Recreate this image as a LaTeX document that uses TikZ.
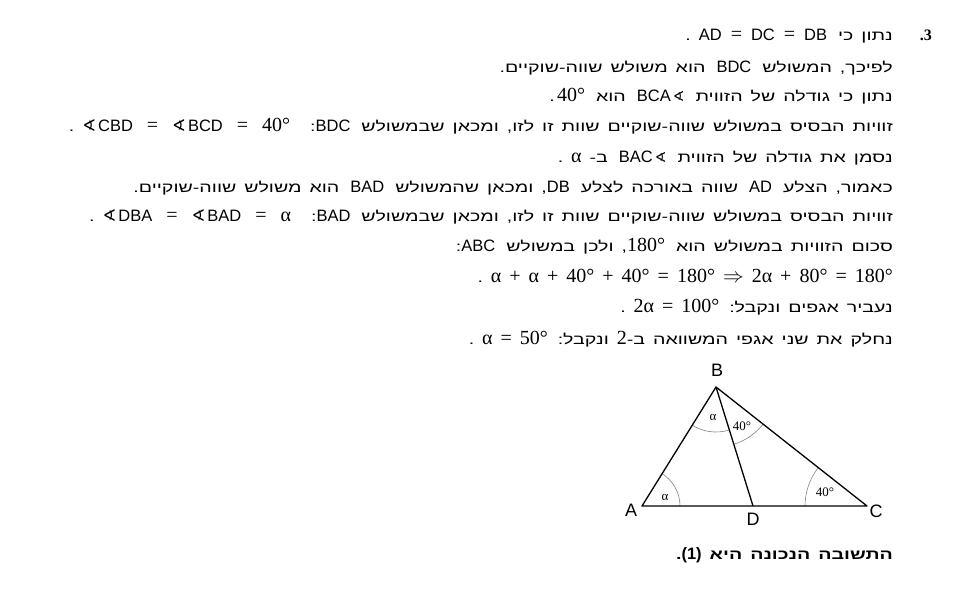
\documentclass[tikz,border=0pt]{standalone}
\usepackage{fontspec}
\setmainfont{Liberation Sans}
\newfontfamily\hebfont[Script=Hebrew, FakeStretch=1.4]{Liberation Sans}
\newfontfamily\timesfont{Liberation Serif}
\newfontfamily\symfont{DejaVu Sans}
\TeXXeTstate=1
\usetikzlibrary{angles}
\newcommand\hebtext{\fontsize{14}{18}\hebfont\spaceskip=8pt plus 1pt\relax}
\newcommand\lrun[1]{\beginL{\fontsize{16.5}{18}\normalfont#1}\endL}
\newcommand\xgap{\hspace{3pt}}
\newcommand\nm[1]{{\fontsize{20}{22}\timesfont\spaceskip=0.4em\relax#1}}
\newcommand\eq{\nm{\hspace{0.45em}=\hspace{0.45em}}}
\newcommand\eqw{\nm{\hspace{0.7em}=\hspace{0.7em}}}
\newcommand\ang{{\symfont\char"2222}\kern2pt}
\begin{document}
\begin{tikzpicture}[x=1pt,y=-1pt,
    txtline/.style = {anchor=base east, inner sep=0pt, font=\hebtext},
    vertex/.style = {inner sep=0pt, font=\fontsize{18}{20}\selectfont},
    anglabel/.style = {inner sep=0pt, font=\fontsize{13}{14}\timesfont},
    arcmark/.style = {draw=gray, line width=0.6pt},
    side/.style = {line width=1.3pt, line join=round}]
    \useasboundingbox (0,0) rectangle (969,608);
    % solution text
    \node[txtline, font=\fontsize{16}{18}\timesfont\bfseries] (num) at (932,40) {\beginR 3\kern0pt.\endR};
    \node[txtline] (l1) at (893,40) {\beginR נתון כי \xgap\lrun{AD\eq DC\eq DB} .\endR};
    \node[txtline] (l2) at (893,72) {\beginR לפיכך, המשולש \xgap\lrun{BDC}\xgap{} הוא משולש שווה-שוקיים.\endR};
    \node[txtline] (l3) at (893,101) {\beginR נתון כי גודלה של הזווית \xgap\ang\lrun{BCA}\xgap{} הוא \xgap\lrun{\nm{40°}}\,.\endR};
    \node[txtline] (l4) at (893,131) {\beginR זוויות הבסיס במשולש שווה-שוקיים שוות זו לזו, ומכאן שבמשולש \xgap\lrun{BDC}:\hspace{12pt} \lrun{\ang CBD\eqw\ang BCD\eqw\nm{40°}} .\endR};
    \node[txtline] (l5) at (893,162) {\beginR נסמן את גודלה של הזווית \xgap\ang\lrun{BAC}\xgap{} ב- \lrun{\nm{α}} .\endR};
    \node[txtline] (l6) at (893,192) {\beginR כאמור, הצלע \xgap\lrun{AD}\xgap{} שווה באורכה לצלע \xgap\lrun{DB}, ומכאן שהמשולש \xgap\lrun{BAD}\xgap{} הוא משולש שווה-שוקיים.\endR};
    \node[txtline] (l7) at (893,221) {\beginR זוויות הבסיס במשולש שווה-שוקיים שוות זו לזו, ומכאן שבמשולש \xgap\lrun{BAD}:\hspace{12pt} \lrun{\ang DBA\eqw\ang BAD\eqw\nm{α}} .\endR};
    \node[txtline] (l8) at (893,251) {\beginR סכום הזוויות במשולש הוא \xgap\lrun{\nm{180°}}, ולכן במשולש \xgap\lrun{ABC}:\endR};
    \node[txtline] (l9) at (893,282) {\beginR\lrun{\nm{α + α + 40° + 40° = 180° $\Rightarrow$ 2α + 80° = 180°}} .\endR};
    \node[txtline] (l10) at (893,312) {\beginR נעביר אגפים ונקבל: \lrun{\nm{2α = 100°}} .\endR};
    \node[txtline] (l11) at (893,344) {\beginR נחלק את שני אגפי המשוואה ב-\nm{2} ונקבל: \lrun{\nm{α = 50°}} .\endR};
    % triangle
    \coordinate (A) at (642,506);
    \coordinate (B) at (716,387);
    \coordinate (C) at (867,506);
    \coordinate (D) at (753,506);
    \pic[arcmark, angle radius=38pt] {angle=D--A--B};
    \pic[arcmark, angle radius=62pt] {angle=B--C--A};
    \pic[arcmark, angle radius=45pt] {angle=A--B--D};
    \pic[arcmark, angle radius=60pt] {angle=D--B--C};
    \draw[side] (A) -- (B) -- (C) -- cycle;
    \draw[side] (B) -- (D);
    \node[vertex] (lblA) at (631,510) {A};
    \node[vertex] (lblB) at (717,370) {B};
    \node[vertex] (lblC) at (876,511) {C};
    \node[vertex] (lblD) at (753,519) {D};
    \node[anglabel] (angA) at (665,497) {α};
    \node[anglabel] (angC) at (825,492) {40°};
    \node[anglabel] (angB1) at (713,417) {α};
    \node[anglabel] (angB2) at (742,426) {40°};
    % answer
    \node[txtline, font=\hebtext\bfseries] (ans) at (893,559) {\beginR התשובה הנכונה היא \lrun{\bfseries(1)}.\endR};
\end{tikzpicture}
\end{document}
